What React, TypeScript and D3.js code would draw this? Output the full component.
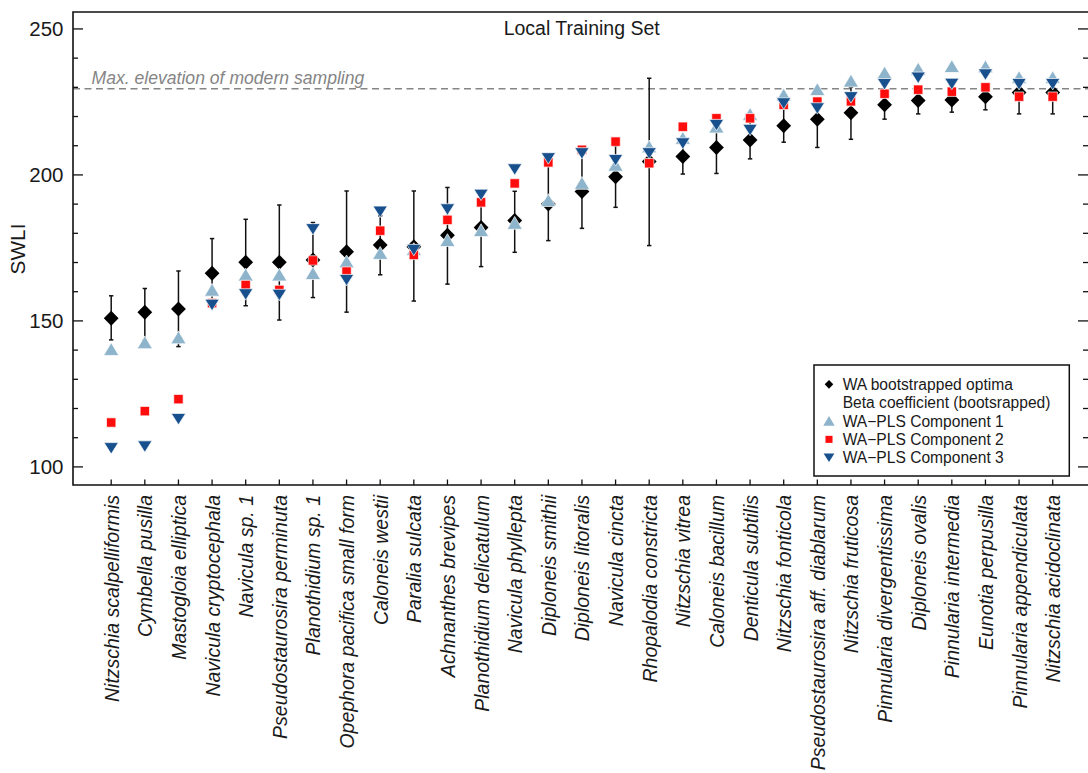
import React from 'react';
import * as d3 from 'd3';

// Diatom species ordered by WA optimum
const species = [
  'Nitzschia scalpelliformis',
  'Cymbella pusilla',
  'Mastogloia elliptica',
  'Navicula cryptocephala',
  'Navicula sp. 1',
  'Pseudostaurosira perminuta',
  'Planothidium sp. 1',
  'Opephora pacifica small form',
  'Caloneis westii',
  'Paralia sulcata',
  'Achnanthes brevipes',
  'Planothidium delicatulum',
  'Navicula phyllepta',
  'Diploneis smithii',
  'Diploneis litoralis',
  'Navicula cincta',
  'Rhopalodia constricta',
  'Nitzschia vitrea',
  'Caloneis bacillum',
  'Denticula subtilis',
  'Nitzschia fonticola',
  'Pseudostaurosira aff. diablarum',
  'Nitzschia fruticosa',
  'Pinnularia divergentissima',
  'Diploneis ovalis',
  'Pinnularia intermedia',
  'Eunotia perpusilla',
  'Pinnularia appendiculata',
  'Nitzschia acidoclinata',
];

// WA bootstrapped optima (SWLI)
const waOptima = [
  150.9, 153.0, 154.1, 166.3, 170.1, 170.1, 170.9, 173.7, 176.0, 175.4,
  179.3, 182.0, 184.4, 190.0, 194.3, 199.4, 204.6, 206.3, 209.4, 212.0,
  216.8, 219.1, 221.3, 224.0, 225.5, 225.7, 226.8, 228.2, 228.2,
];
// Beta coefficient (bootstrapped) range
const waLower = [
  143.5, 143.5, 141.2, 155.5, 155.2, 150.3, 158.0, 153.0, 165.8, 156.8,
  162.6, 168.6, 173.5, 177.5, 181.7, 188.9, 175.8, 200.3, 200.5, 205.5,
  211.2, 209.4, 212.2, 219.1, 220.9, 221.5, 222.3, 220.9, 220.9,
];
const waUpper = [
  158.6, 161.1, 167.1, 178.2, 184.8, 189.7, 183.7, 194.5, 186.0, 194.5,
  195.7, 193.0, 194.4, 204.0, 207.0, 210.0, 233.1, 212.0, 217.0, 219.0,
  223.0, 226.0, 230.0, 229.0, 230.0, 230.0, 231.0, 234.0, 234.0,
];
// WA-PLS optima
const plsComp1 = [
  140.3, 142.6, 144.3, 160.6, 165.8, 165.8, 166.3, 170.3, 173.2, 174.5,
  177.6, 181.0, 183.5, 191.3, 197.2, 203.4, 209.7, 212.6, 216.5, 220.8,
  227.4, 229.3, 232.2, 235.0, 236.3, 237.2, 237.1, 233.4, 233.4,
];
const plsComp2 = [
  115.2, 119.1, 123.2, 156.1, 162.3, 160.6, 170.7, 166.9, 180.9, 172.6,
  184.6, 190.6, 197.1, 204.3, 208.6, 211.4, 204.0, 216.5, 219.4, 219.4,
  224.0, 225.1, 225.2, 227.8, 229.2, 228.5, 230.0, 226.8, 226.8,
];
const plsComp3 = [
  106.4, 107.0, 116.4, 155.5, 159.1, 158.9, 181.4, 164.0, 187.4, 174.3,
  188.2, 193.2, 201.9, 205.7, 207.4, 205.1, 207.4, 210.8, 217.1, 215.4,
  224.5, 222.8, 226.6, 231.1, 233.3, 231.2, 234.4, 231.1, 231.1,
];

const yMajorTicks = [100, 150, 200, 250];
const yMinorTicks = d3.range(100, 251, 10);
const maxSamplingElevation = 229.5;

const legendItems = [
  { label: 'WA bootstrapped optima', shape: 'diamond' },
  { label: 'Beta coefficient (bootsrapped)', shape: 'none' },
  { label: 'WA\u2212PLS Component 1', shape: 'up' },
  { label: 'WA\u2212PLS Component 2', shape: 'square' },
  { label: 'WA\u2212PLS Component 3', shape: 'down' },
];

const FONT = "'Liberation Sans', Arial, Helvetica, sans-serif";
const C_UP = '#8eb4cc';
const C_SQ = '#ff0d0d';
const C_DOWN = '#17508c';

const W = 1088;
const H = 773;
const plot = { left: 73, right: 1088, top: 12, bottom: 485 };

function markerPath(shape: string, s: number): string {
  switch (shape) {
    case 'diamond':
      return `M0,${-7.5 * s}L${7.4 * s},0L0,${7.5 * s}L${-7.4 * s},0Z`;
    case 'up':
      return `M0,${-6.6 * s}L${7.6 * s},${6.2 * s}L${-7.6 * s},${6.2 * s}Z`;
    case 'down':
      return `M${-7.2 * s},${-5.6 * s}L${7.2 * s},${-5.6 * s}L0,${5.8 * s}Z`;
    case 'square':
      return `M${-4.7 * s},${-4.7 * s}h${9.4 * s}v${9.4 * s}h${-9.4 * s}Z`;
    default:
      return '';
  }
}

const shapeFill: Record<string, string> = {
  diamond: '#000',
  up: C_UP,
  square: C_SQ,
  down: C_DOWN,
};

export default function App() {
  const x = d3.scalePoint<string>().domain(species).range([111.2, 1052.7]);
  const y = d3.scaleLinear().domain([93.8, 255.8]).range([plot.bottom, plot.top]);

  const series = [
    { key: 'up', values: plsComp1 },
    { key: 'square', values: plsComp2 },
    { key: 'down', values: plsComp3 },
  ];

  return (
    <svg
      width={W}
      height={H}
      viewBox={`0 0 ${W} ${H}`}
      style={{ position: 'absolute', left: 0, top: 0, background: '#fff' }}
      fontFamily={FONT}
    >
      <rect x={0} y={0} width={W} height={H} fill="#fff" />

      {/* max sampling elevation */}
      <line
        x1={plot.left}
        x2={plot.right}
        y1={y(maxSamplingElevation)}
        y2={y(maxSamplingElevation)}
        stroke="#858585"
        strokeWidth={1.5}
        strokeDasharray="7,4.5"
      />
      <text
        x={91.5}
        y={y(maxSamplingElevation) - 4.5}
        fontSize={17.6}
        fontStyle="italic"
        fill="#858585"
      >
        Max. elevation of modern sampling
      </text>

      {/* error bars */}
      {species.map((s, i) => {
        const cx = x(s)!;
        return (
          <g key={`eb-${i}`} stroke="#111" strokeWidth={1.5}>
            <line x1={cx} x2={cx} y1={y(waLower[i])} y2={y(waUpper[i])} />
            <line x1={cx - 2.2} x2={cx + 2.2} y1={y(waLower[i])} y2={y(waLower[i])} />
            <line x1={cx - 2.2} x2={cx + 2.2} y1={y(waUpper[i])} y2={y(waUpper[i])} />
          </g>
        );
      })}

      {/* WA optima */}
      {species.map((s, i) => (
        <path
          key={`wa-${i}`}
          d={markerPath('diamond', 1)}
          transform={`translate(${x(s)},${y(waOptima[i])})`}
          fill="#000"
        />
      ))}

      {/* WA-PLS components */}
      {series.map((sr) =>
        species.map((s, i) => (
          <path
            key={`${sr.key}-${i}`}
            d={markerPath(sr.key, 1)}
            transform={`translate(${x(s)},${y(sr.values[i])})`}
            fill={shapeFill[sr.key]}
            stroke="#fff"
            strokeWidth={0.7}
          />
        ))
      )}

      {/* frame (right edge sits at the page edge) */}
      <path
        d={`M${plot.right + 2},${plot.top}H${plot.left}V${plot.bottom}H${plot.right + 2}`}
        fill="none"
        stroke="#111"
        strokeWidth={1.6}
      />

      {/* y ticks, both sides */}
      {yMinorTicks.map((t) => {
        const major = yMajorTicks.includes(t);
        const len = major ? 10 : 5;
        return (
          <g key={`yt-${t}`} stroke="#111" strokeWidth={1.3}>
            <line x1={plot.left} x2={plot.left + len} y1={y(t)} y2={y(t)} />
            <line x1={plot.right} x2={plot.right - len} y1={y(t)} y2={y(t)} />
          </g>
        );
      })}
      {yMajorTicks.map((t) => (
        <text
          key={`yl-${t}`}
          x={63.5}
          y={y(t)}
          textAnchor="end"
          dominantBaseline="central"
          fontSize={20.5}
          fill="#1a1a1a"
        >
          {t}
        </text>
      ))}
      <text
        transform={`translate(17,249) rotate(-90)`}
        textAnchor="middle"
        dominantBaseline="central"
        fontSize={20.8}
        fill="#1a1a1a"
      >
        SWLI
      </text>

      {/* x ticks and species labels */}
      {species.map((s) => (
        <line
          key={`xt-${s}`}
          x1={x(s)}
          x2={x(s)}
          y1={plot.bottom}
          y2={plot.bottom - 5.5}
          stroke="#111"
          strokeWidth={1.3}
        />
      ))}
      {species.map((s) => (
        <text
          key={`xl-${s}`}
          transform={`translate(${x(s)! + 0.5},495) rotate(-90)`}
          textAnchor="end"
          dominantBaseline="central"
          fontSize={19.5}
          fontStyle="italic"
          fill="#1a1a1a"
        >
          {s}
        </text>
      ))}

      {/* title */}
      <text x={581.7} y={35} textAnchor="middle" fontSize={19.5} fill="#1a1a1a">
        Local Training Set
      </text>

      {/* legend */}
      <g>
        <rect x={814} y={365} width={255.3} height={111} fill="#fff" stroke="#111" strokeWidth={1.5} />
        {legendItems.map((it, k) => {
          const cy = 384.3 + k * 18.35;
          return (
            <g key={`lg-${k}`}>
              {it.shape !== 'none' && (
                <path
                  d={markerPath(it.shape, it.shape === 'diamond' ? 0.58 : 0.75)}
                  transform={`translate(829,${cy})`}
                  fill={shapeFill[it.shape]}
                />
              )}
              <text x={842.7} y={cy} dominantBaseline="central" fontSize={15.6} fill="#1a1a1a">
                {it.label}
              </text>
            </g>
          );
        })}
      </g>
    </svg>
  );
}
